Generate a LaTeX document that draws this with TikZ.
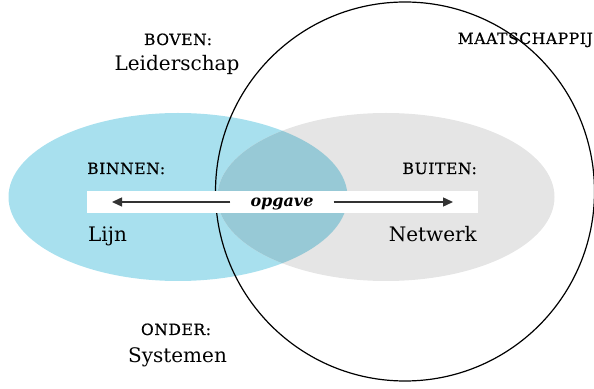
\documentclass[tikz,border=0pt]{standalone}
\usepackage{fontspec}
\setmainfont{DejaVu Serif}
\newfontfamily\capsfont[LetterSpace=4,FakeBold=0.6]{DejaVu Serif}
\usetikzlibrary{arrows.meta}
\definecolor{lijnblauw}{RGB}{168,224,238}
\definecolor{netgrijs}{RGB}{229,229,229}
\definecolor{overlap}{RGB}{151,201,214}
\definecolor{pijl}{RGB}{51,51,51}
\tikzset{
  kop/.style={inner sep=0pt, font=\capsfont\fontsize{15.5}{15.5}\selectfont},
  naam/.style={inner sep=0pt, font=\fontsize{20}{20}\selectfont},
  pijlstijl/.style={draw=pijl, line width=1.4pt, -{Triangle[length=10pt,width=9pt]}},
}
\begin{document}
\begin{tikzpicture}[x=1pt,y=1pt]
  \useasboundingbox (0,0) rectangle (594,388);
  % the two domains and their overlap
  \fill[lijnblauw] (178,191) ellipse [x radius=169.5, y radius=84];
  \fill[netgrijs] (386,191) ellipse [x radius=168.5, y radius=84];
  \begin{scope}
    \clip (178,191) ellipse [x radius=169.5, y radius=84];
    \fill[overlap] (386,191) ellipse [x radius=168.5, y radius=84];
  \end{scope}
  % society
  \draw[line width=1.2pt] (405,196.5) circle [radius=189.5];
  % white band with the task
  \fill[white] (87,175) rectangle (478,197);
  \node[inner xsep=20pt, inner ysep=0pt, anchor=base,
        font=\bfseries\itshape\fontsize{16}{16}\selectfont] (opg) at (282,181) {opgave};
  \coordinate (ltip) at (112,186);
  \coordinate (rtip) at (453,186);
  \draw[pijlstijl] (opg.west |- ltip) -- (ltip);
  \draw[pijlstijl] (opg.east |- rtip) -- (rtip);
  % labels
  \node[kop, anchor=base] (boven) at (178,343) {BOVEN:};
  \node[naam, anchor=base] (leider) at (177,317) {Leiderschap};
  \node[kop, anchor=base east] (maat) at (593,344) {MAATSCHAPPIJ};
  \node[kop, anchor=base west] (binnen) at (87,214) {BINNEN:};
  \node[kop, anchor=base east] (buiten) at (477,214) {BUITEN:};
  \node[naam, anchor=base west] (lijn) at (88,146) {Lijn};
  \node[naam, anchor=base east] (netwerk) at (477,146) {Netwerk};
  \node[kop, anchor=base] (onder) at (176,53) {ONDER:};
  \node[naam, anchor=base] (systemen) at (177.5,25) {Systemen};
\end{tikzpicture}
\end{document}
